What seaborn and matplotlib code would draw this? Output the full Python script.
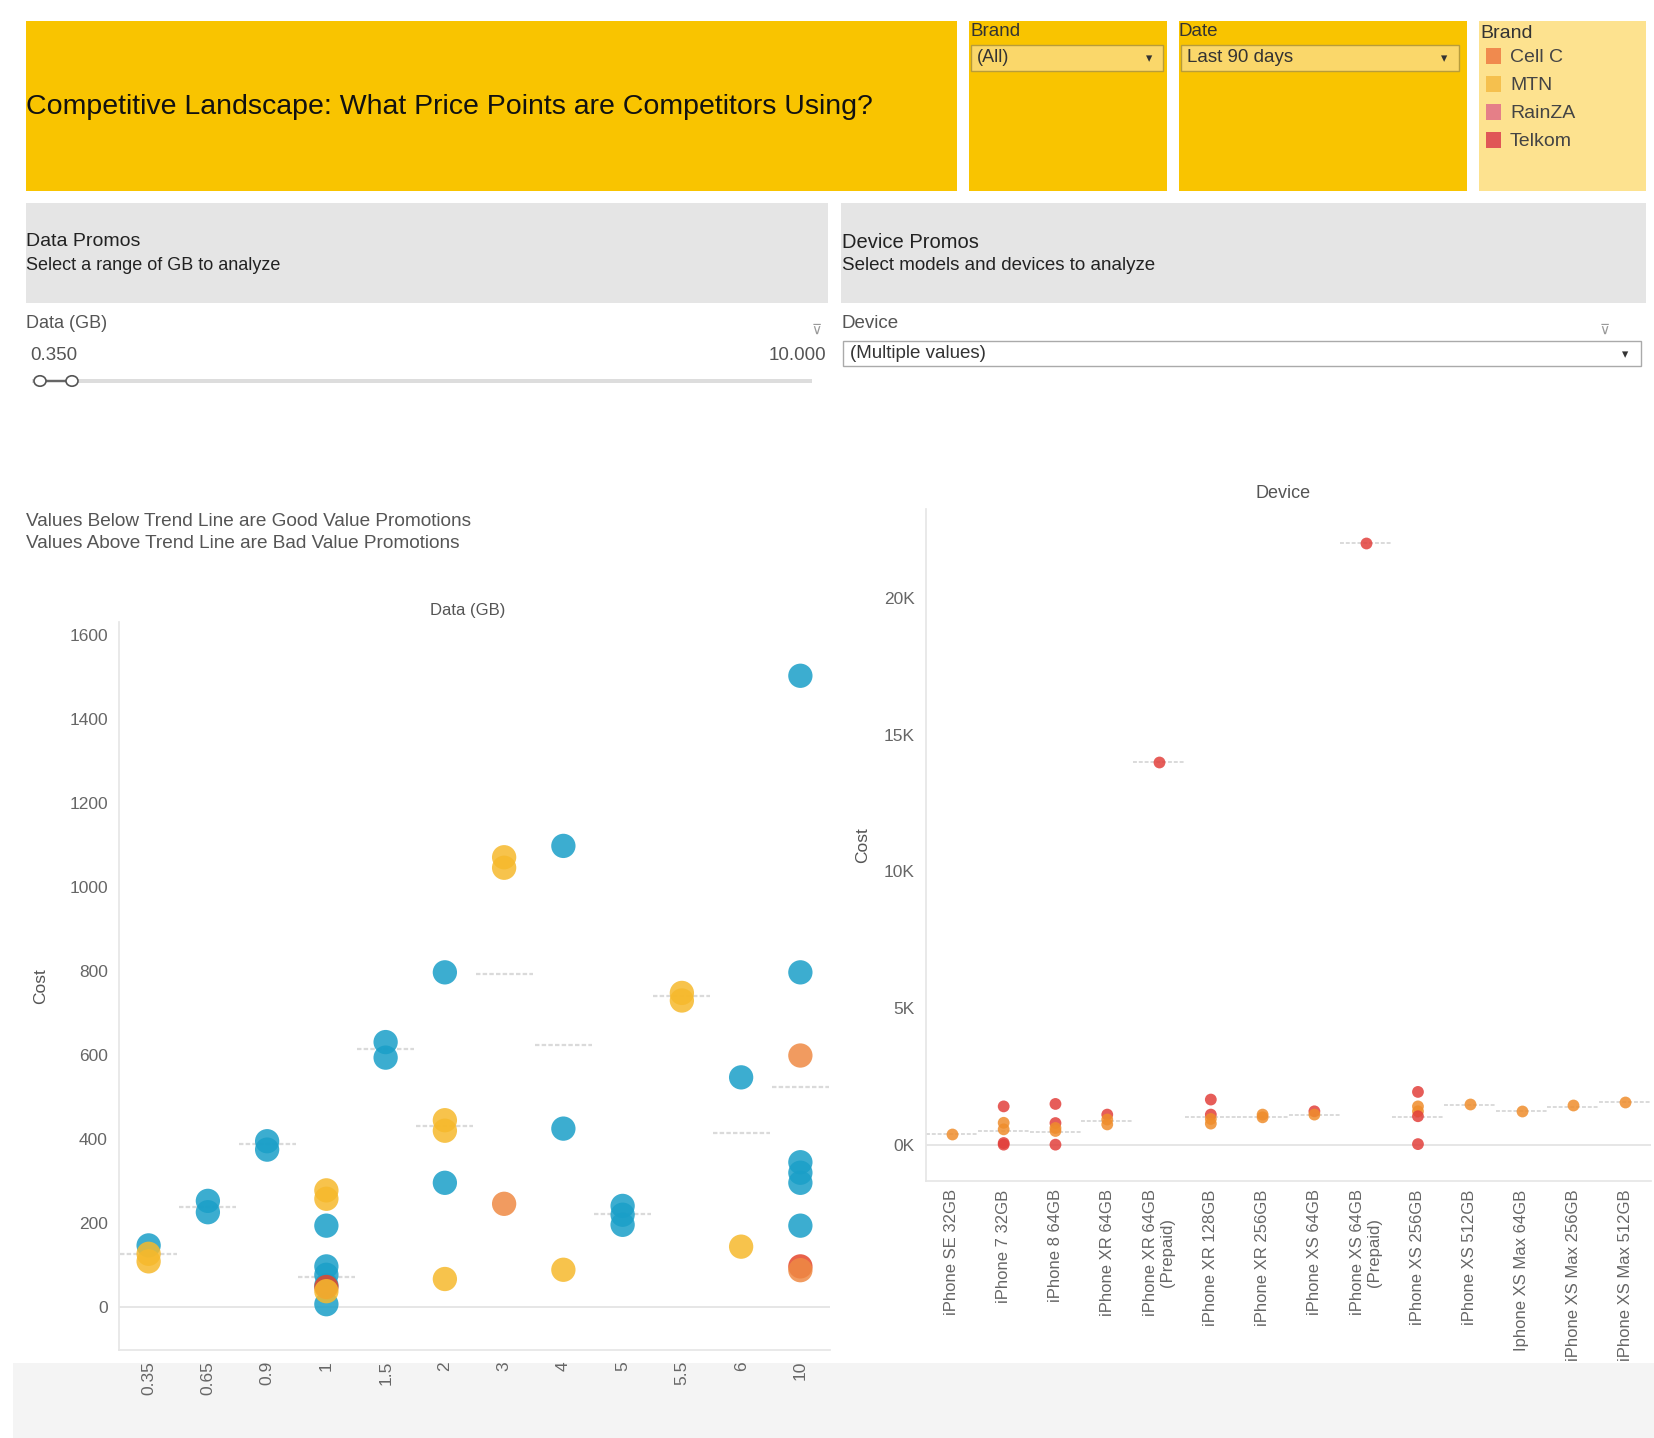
import numpy as np
import pandas as pd
import matplotlib
matplotlib.use("Agg")
import matplotlib.pyplot as plt
from matplotlib.patches import Rectangle, Circle
from matplotlib.ticker import FuncFormatter
import seaborn as sns

# --- data: data promos (cost per GB bundle) ---
gb_cats = ['0.35', '0.65', '0.9', '1', '1.5', '2', '3', '4', '5', '5.5', '6', '10']
gb_trend = [127, 238, 388, 72, 614, 432, 792, 624, 221, 740, 415, 524]

data_gb = ['0.35', '0.35', '0.35',
           '0.65', '0.65',
           '0.9', '0.9',
           '1', '1', '1', '1', '1', '1', '1', '1', '1',
           '1.5', '1.5',
           '2', '2', '2', '2', '2',
           '3', '3', '3',
           '4', '4', '4',
           '5', '5', '5',
           '5.5', '5.5',
           '6', '6',
           '10', '10', '10', '10', '10', '10', '10', '10', '10']
data_cost = [147, 127, 109,
             253, 226,
             395, 375,
             278, 258, 194, 97, 77, 52, 7, 48, 38,
             631, 594,
             797, 445, 420, 296, 67,
             1071, 1046, 246,
             1098, 425, 89,
             241, 220, 196,
             748, 730,
             547, 144,
             1503, 797, 599, 345, 320, 296, 194, 97, 88]
data_brand = ['Vodacom', 'MTN', 'MTN',
              'Vodacom', 'Vodacom',
              'Vodacom', 'Vodacom',
              'MTN', 'MTN', 'Vodacom', 'Vodacom', 'Vodacom', 'Vodacom', 'Vodacom', 'Telkom', 'MTN',
              'Vodacom', 'Vodacom',
              'Vodacom', 'MTN', 'MTN', 'Vodacom', 'MTN',
              'MTN', 'MTN', 'Cell C',
              'Vodacom', 'Vodacom', 'MTN',
              'Vodacom', 'Vodacom', 'Vodacom',
              'MTN', 'MTN',
              'Vodacom', 'MTN',
              'Vodacom', 'Vodacom', 'Cell C', 'Vodacom', 'Vodacom', 'Vodacom', 'Vodacom', 'Telkom', 'Cell C']

# --- data: device promos ---
devices = ['iPhone SE 32GB', 'iPhone 7 32GB', 'iPhone 8 64GB', 'iPhone XR 64GB',
           'iPhone XR 64GB\n(Prepaid)', 'iPhone XR 128GB', 'iPhone XR 256GB', 'iPhone XS 64GB',
           'iPhone XS 64GB\n(Prepaid)', 'iPhone XS 256GB', 'iPhone XS 512GB', 'Iphone XS Max 64GB',
           'iPhone XS Max 256GB', 'iPhone XS Max 512GB']
device_avg = [400, 490, 464, 878, 14000, 1000, 1000, 1100, 22000, 1000, 1464, 1220, 1379, 1560]

dev_name = [0, 1, 1, 1, 1, 1, 2, 2, 2, 2, 2, 3, 3, 3, 4, 5, 5, 5, 5, 6, 6,
            7, 7, 8, 9, 9, 9, 9, 9, 10, 11, 12, 13]
dev_cost = [403, 1400, 800, 560, 60, 0, 1490, 790, 610, 500, 0, 1100, 920, 740, 14000,
            1650, 1100, 940, 770, 1100, 1000, 1220, 1100, 22000,
            1930, 1400, 1220, 1040, 20, 1500, 1220, 1440, 1560]
dev_brand = ['Cell C', 'Telkom', 'Cell C', 'Cell C', 'Telkom', 'Telkom',
             'Telkom', 'Telkom', 'Cell C', 'Cell C', 'Telkom',
             'Telkom', 'Cell C', 'Cell C', 'Telkom',
             'Telkom', 'Telkom', 'Cell C', 'Cell C', 'Cell C', 'Cell C',
             'Telkom', 'Cell C', 'Telkom',
             'Telkom', 'Cell C', 'Cell C', 'Telkom', 'Telkom',
             'Cell C', 'Cell C', 'Cell C', 'Cell C']

legend_brands = ['Cell C', 'MTN', 'RainZA', 'Telkom']
legend_colors = ['#f08a4e', '#f5c04e', '#e57f88', '#e05757']
palette = {'Vodacom': '#1a9fc8', 'MTN': '#f6b92c', 'Cell C': '#ef8a44',
           'RainZA': '#e57f88', 'Telkom': '#e5452a'}
dev_palette = {'Cell C': '#ef8d2c', 'Telkom': '#e2403c'}

sns.set_theme(style="white")
plt.rcParams['font.family'] = ['Liberation Sans', 'DejaVu Sans']

W, H = 1654, 1438
fig = plt.figure(figsize=(W / 100, H / 100), dpi=100)


def box(x0, y0, x1, y1):
    # pixel box (top-left origin) -> figure fraction rect
    return [x0 / W, 1 - y1 / H, (x1 - x0) / W, (y1 - y0) / H]


def rect(x0, y0, x1, y1, fc, ec='none', lw=0, z=-1):
    r = Rectangle((x0 / W, 1 - y1 / H), (x1 - x0) / W, (y1 - y0) / H,
                  transform=fig.transFigure, facecolor=fc, edgecolor=ec, lw=lw, zorder=z)
    fig.add_artist(r)


def text(x, y, s, **kw):
    fig.text(x / W, 1 - y / H, s, **kw)


# header
rect(26, 21, 957, 191, '#f9c400')
text(26, 107, 'Competitive Landscape: What Price Points are Competitors Using?',
     fontsize=20.5, va='center', color='#111111')
rect(969, 21, 1167, 191, '#f9c400')
text(970, 31, 'Brand', fontsize=13.5, va='center', color='#333333')
rect(971, 45, 1163, 71, '#fad76a', ec='#b89c3a', lw=1)
text(977, 58, '(All)', fontsize=13, va='center', color='#333333')
text(1146, 59, '▾', fontsize=9, va='center', color='#333333')
rect(1179, 21, 1467, 191, '#f9c400')
text(1179, 31, 'Date', fontsize=13.5, va='center', color='#333333')
rect(1181, 45, 1459, 71, '#fad76a', ec='#b89c3a', lw=1)
text(1187, 58, 'Last 90 days', fontsize=13.5, va='center', color='#333333')
text(1441, 59, '▾', fontsize=9, va='center', color='#333333')
rect(1479, 21, 1646, 191, '#fde28f')
text(1480, 33, 'Brand', fontsize=14, va='center', color='#333333')
for i, (b, c) in enumerate(zip(legend_brands, legend_colors)):
    yc = 56 + i * 28
    rect(1486, yc - 8, 1501, yc + 8, c, z=1)
    text(1510, yc + 1, b, fontsize=14, va='center', color='#444444')

# section panels
rect(26, 203, 828, 303, '#e5e5e5')
text(26, 242, 'Data Promos', fontsize=14, va='center', color='#222222')
text(26, 265, 'Select a range of GB to analyze', fontsize=13, va='center', color='#222222')
rect(841, 203, 1646, 303, '#e5e5e5')
text(842, 242, 'Device Promos', fontsize=14.5, va='center', color='#222222')
text(842, 265, 'Select models and devices to analyze', fontsize=13.5, va='center', color='#222222')

# GB slider
text(26, 324, 'Data (GB)', fontsize=13, va='center', color='#555555')
text(30, 356, '0.350', fontsize=13.5, va='center', color='#555555')
text(826, 356, '10.000', fontsize=13.5, va='center', ha='right', color='#555555')
text(812, 330, '⊽', fontsize=10, va='center', color='#999999')
rect(32, 379, 812, 383, '#dddddd')
rect(40, 380, 72, 382, '#666666', z=1)
for hx in (40, 72):
    fig.add_artist(Circle((hx / W, 1 - 381 / H), 6 / W, transform=fig.transFigure,
                          facecolor='white', edgecolor='#555555', lw=1.2, zorder=2))

# device dropdown
text(842, 324, 'Device', fontsize=13.5, va='center', color='#555555')
text(1600, 330, '⊽', fontsize=10, va='center', color='#999999')
rect(843, 341, 1641, 366, 'white', ec='#aaaaaa', lw=1, z=0)
text(850, 353, '(Multiple values)', fontsize=13.5, va='center', color='#333333')
text(1622, 355, '▾', fontsize=9, va='center', color='#333333')

# annotation
text(26, 522, 'Values Below Trend Line are Good Value Promotions', fontsize=13.7,
     va='center', color='#555555')
text(26, 544, 'Values Above Trend Line are Bad Value Promotions', fontsize=13.7,
     va='center', color='#555555')

# bottom band
rect(13, 1363, 1654, 1438, '#f4f4f4')

grey = '#666666'

# --- left chart ---
df_data = pd.DataFrame({'gb': data_gb, 'cost': data_cost, 'brand': data_brand})
ax1 = fig.add_axes(box(119, 622, 830, 1350))
ax1.set_facecolor('none')
x1 = np.arange(len(gb_cats))
ax1.hlines(gb_trend, x1 - 0.48, x1 + 0.48, colors='#dadada', lw=1.6, linestyles=(0, (2, 1)), zorder=1)
ax1.axhline(0, color='#e2e2e2', lw=1.2, zorder=0)
sns.stripplot(data=df_data, x='gb', y='cost', hue='brand', order=gb_cats,
              palette=palette, jitter=False, size=17.5, alpha=0.85, linewidth=0,
              legend=False, ax=ax1, zorder=3)
ax1.set_xlim(-0.5, len(gb_cats) - 0.5)
ax1.set_ylim(-102, 1631)
ax1.set_yticks(range(0, 1601, 200))
ax1.tick_params(axis='y', labelsize=12.5, colors=grey, length=0, pad=8)
ax1.tick_params(axis='x', labelsize=12.5, colors=grey, length=0, pad=8, labelrotation=90)
ax1.set_xlabel('')
ax1.set_ylabel('Cost', fontsize=12.5, color='#555555', labelpad=15)
for s in ['top', 'right']:
    ax1.spines[s].set_visible(False)
ax1.spines['left'].set_color('#e6e6e6')
ax1.spines['bottom'].set_color('#e6e6e6')
text(468, 611, 'Data (GB)', fontsize=12, ha='center', va='center', color='#555555')

# --- right chart ---
df_dev = pd.DataFrame({'device': [devices[i] for i in dev_name], 'cost': dev_cost, 'brand': dev_brand})
ax2 = fig.add_axes(box(926, 509, 1651, 1181))
ax2.set_facecolor('none')
x2 = np.arange(len(devices))
ax2.hlines(device_avg, x2 - 0.5, x2 + 0.5, colors='#dadada', lw=1.4, linestyles=(0, (2, 1)), zorder=1)
ax2.axhline(0, color='#e2e2e2', lw=1.2, zorder=0)
sns.stripplot(data=df_dev, x='device', y='cost', hue='brand', order=devices,
              palette=dev_palette, jitter=False, size=8.5, alpha=0.85, linewidth=0,
              legend=False, ax=ax2, zorder=3)
ax2.set_xlim(-0.5, len(devices) - 0.5)
ax2.set_ylim(-1330, 23260)
ax2.set_yticks(range(0, 20001, 5000))
ax2.yaxis.set_major_formatter(FuncFormatter(lambda v, p: f'{int(v / 1000)}K'))
ax2.tick_params(axis='y', labelsize=12.5, colors=grey, length=0, pad=8)
ax2.tick_params(axis='x', labelsize=12, colors=grey, length=0, pad=6, labelrotation=90)
ax2.set_xlabel('')
ax2.set_ylabel('Cost', fontsize=12.5, color='#555555', labelpad=10)
for s in ['top', 'right']:
    ax2.spines[s].set_visible(False)
ax2.spines['left'].set_color('#e6e6e6')
ax2.spines['bottom'].set_color('#e6e6e6')
text(1283, 494, 'Device', fontsize=13, ha='center', va='center', color='#555555')

fig.savefig('out.png', dpi=100)
